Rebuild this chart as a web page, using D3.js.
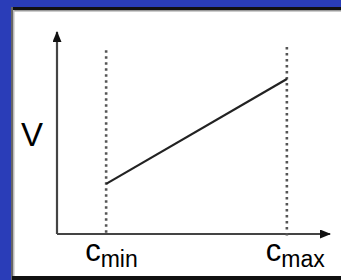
<!DOCTYPE html>
<html>
<head>
<meta charset="utf-8">
<script src="https://cdn.jsdelivr.net/npm/d3@7"></script>
<style>
  html, body { margin: 0; padding: 0; background: #2a3db8; }
  #chart { width: 341px; height: 280px; }
</style>
</head>
<body>
<div id="chart"></div>
<script>
// concentration markers on the x axis and the response at each of them
const cLabels = ["min", "max"];
const cValues = [1.8, 8.42];
const vValues = [2.48, 7.67];
// how high each dotted guide reaches
const guideTops = [9.1, 9.26];

let width = 341, height = 280;

var svg = d3.select("#chart")
  .append("svg")
  .attr("width", width)
  .attr("height", height);

// white panel with its dark frame
svg.append("rect").attr("x", 12).attr("y", 8).attr("width", width - 12).attr("height", 272).attr("fill", "#fff");
svg.append("rect").attr("x", 12).attr("y", 7).attr("width", width - 12).attr("height", 3).attr("fill", "#111");
svg.append("rect").attr("x", 12).attr("y", 10).attr("width", width - 12).attr("height", 1.5).attr("fill", "#999");
svg.append("rect").attr("x", 11).attr("y", 7).attr("width", 2).attr("height", 273).attr("fill", "#666");
svg.append("rect").attr("x", 13).attr("y", 10).attr("width", 1.5).attr("height", 270).attr("fill", "#bbb");
svg.append("rect").attr("x", 12).attr("y", 276).attr("width", width - 12).attr("height", 4).attr("fill", "#111");

// scales
let x = d3.scaleLinear().domain([0, 10]).range([57, 330]);
let y = d3.scaleLinear().domain([0, 10]).range([234, 32]);

let defs = svg.append("defs");
defs.append("marker")
  .attr("id", "arrow")
  .attr("viewBox", "0 0 11 9")
  .attr("refX", 10).attr("refY", 4.5)
  .attr("markerWidth", 11).attr("markerHeight", 9)
  .attr("markerUnits", "userSpaceOnUse")
  .attr("orient", "auto")
  .append("path")
  .attr("d", "M0,0 L11,4.5 L0,9 Z")
  .attr("fill", "#111");

// axes
svg.append("line")
  .attr("x1", x(0)).attr("y1", y(0))
  .attr("x2", x(0)).attr("y2", y(10))
  .attr("stroke", "#444").attr("stroke-width", 2.2)
  .attr("marker-end", "url(#arrow)");
svg.append("line")
  .attr("x1", x(0)).attr("y1", y(0))
  .attr("x2", x(10)).attr("y2", y(0))
  .attr("stroke", "#444").attr("stroke-width", 2.2)
  .attr("marker-end", "url(#arrow)");

// dotted guides
svg.selectAll(".guide")
  .data(cValues)
  .enter()
  .append("line")
  .attr("class", "guide")
  .attr("x1", d => x(d)).attr("x2", d => x(d))
  .attr("y1", (d, i) => y(guideTops[i]))
  .attr("y2", (d, i) => y(0) + (i == 1 ? 4 : 0))
  .attr("stroke", "#555")
  .attr("stroke-width", 2.6)
  .attr("stroke-dasharray", "2.5,3.5");

// response line
svg.append("path")
  .attr("d", d3.line()(cValues.map((c, i) => [x(c), y(vValues[i])])))
  .attr("fill", "none")
  .attr("stroke", "#222")
  .attr("stroke-width", 2.2);

// axis labels
svg.append("text")
  .attr("x", 21).attr("y", y(4.95) + 12)
  .style("font-family", "Arial, 'Liberation Sans', sans-serif")
  .style("font-size", "33px")
  .text("V");

let labels = svg.selectAll(".clabel")
  .data(cValues)
  .enter()
  .append("text")
  .attr("class", "clabel")
  .attr("x", d => x(d) - 21)
  .attr("y", 261)
  .style("font-family", "Arial, 'Liberation Sans', sans-serif")
  .style("font-size", "31px");
labels.append("tspan").text("c");
labels.append("tspan")
  .attr("dy", 6)
  .style("font-size", "23px")
  .text((d, i) => cLabels[i]);
</script>
</body>
</html>
